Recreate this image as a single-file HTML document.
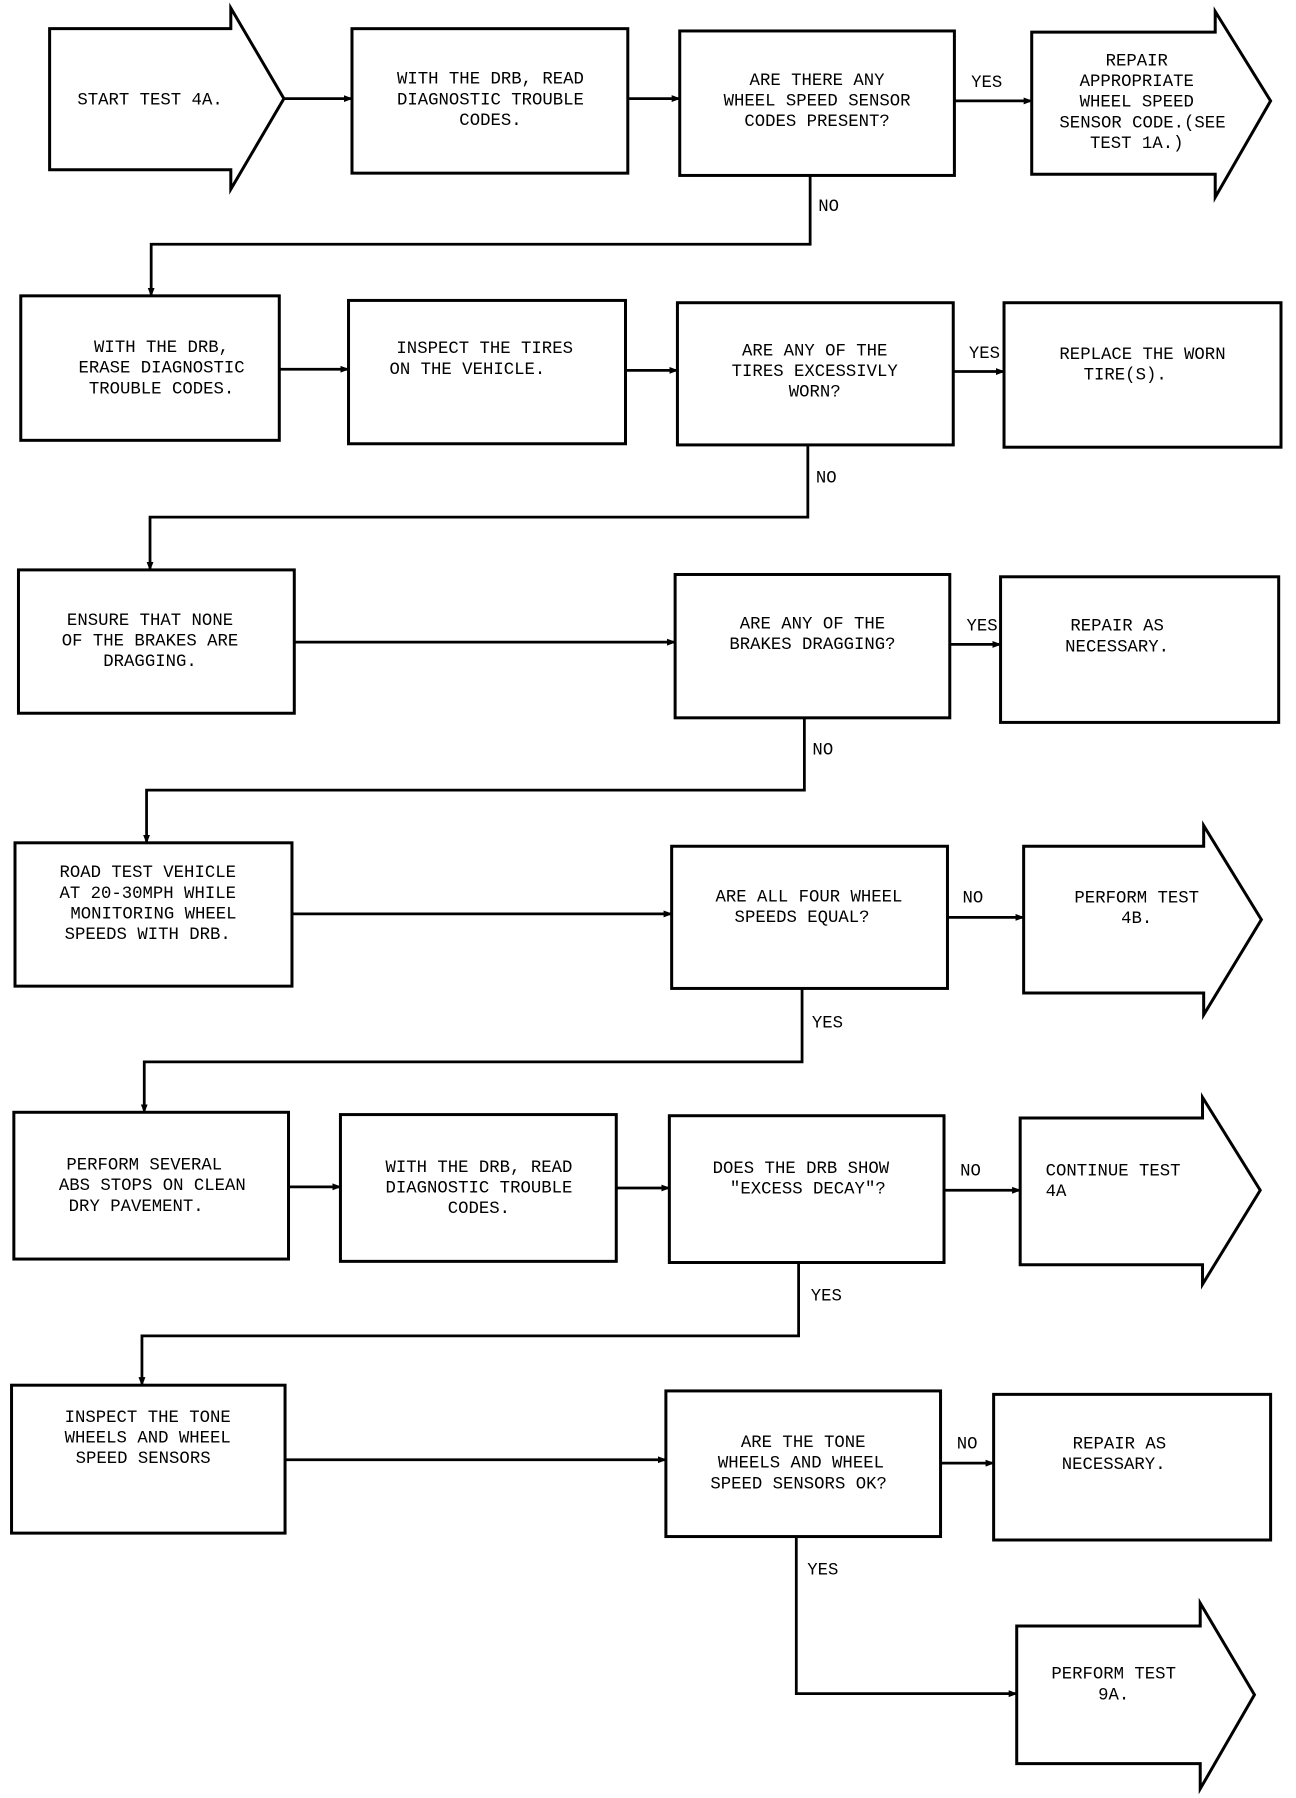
<!DOCTYPE html>
<html><head><meta charset="utf-8"><style>
html,body{margin:0;padding:0;background:#fff;}
svg{display:block}
text{font-family:"Liberation Mono",monospace;font-size:15px;fill:#000;text-anchor:middle;}
.l{text-anchor:start}
</style></head><body>
<svg width="1296" height="1798" viewBox="0 0 1123 1568" preserveAspectRatio="none" xmlns="http://www.w3.org/2000/svg">
<defs><marker id="a" markerWidth="8" markerHeight="8" refX="7" refY="4" orient="auto" markerUnits="userSpaceOnUse"><path d="M0,1 L8,4 L0,7z" fill="#000"/></marker></defs>
<g fill="none" stroke="#000" stroke-width="2.6">
<polygon points="43,25 200,25 200,7 246,86 200,165 200,148 43,148"/>
<rect x="305" y="25" width="239" height="126"/>
<rect x="589" y="27" width="238" height="126"/>
<polygon points="894,28 1053,28 1053,10 1101,88 1053,172 1053,152 894,152"/>
<rect x="18" y="258" width="224" height="126"/>
<rect x="302" y="262" width="240" height="125"/>
<rect x="587" y="264" width="239" height="124"/>
<rect x="870" y="264" width="240" height="126"/>
<rect x="16" y="497" width="239" height="125"/>
<rect x="585" y="501" width="238" height="125"/>
<rect x="867" y="503" width="241" height="127"/>
<rect x="13" y="735" width="240" height="125"/>
<rect x="582" y="738" width="239" height="124"/>
<polygon points="887,738 1043,738 1043,720 1093,802 1043,885 1043,866 887,866"/>
<rect x="12" y="970" width="238" height="128"/>
<rect x="295" y="972" width="239" height="128"/>
<rect x="580" y="973" width="238" height="128"/>
<polygon points="884,975 1042,975 1042,957 1092,1038 1042,1120 1042,1103 884,1103"/>
<rect x="10" y="1208" width="237" height="129"/>
<rect x="577" y="1213" width="238" height="127"/>
<rect x="861" y="1216" width="240" height="127"/>
<polygon points="881,1418 1040,1418 1040,1398 1087,1478 1040,1560 1040,1538 881,1538"/>
</g>
<g fill="none" stroke="#000" stroke-width="2.4" marker-end="url(#a)">
<path d="M246,86H305"/><path d="M544,86H589"/><path d="M827,88H894"/>
<path d="M702,153V213H131V258"/>
<path d="M242,322H302"/><path d="M542,323H587"/><path d="M826,324H870"/>
<path d="M700,388V451H130V497"/>
<path d="M255,560H585"/><path d="M823,562H867"/>
<path d="M697,626V689H127V735"/>
<path d="M253,797H582"/><path d="M821,800H887"/>
<path d="M695,862V926H125V970"/>
<path d="M250,1035H295"/><path d="M534,1036H580"/><path d="M818,1038H884"/>
<path d="M692,1101V1165H123V1208"/>
<path d="M247,1273H577"/><path d="M815,1276H861"/>
<path d="M690,1340V1477H881"/>
</g>
<text x="130" y="91">START TEST 4A.</text>
<text x="425" y="73">WITH THE DRB, READ</text><text x="425" y="91">DIAGNOSTIC TROUBLE</text><text x="425" y="109">CODES.</text>
<text x="708" y="74">ARE THERE ANY</text><text x="708" y="92">WHEEL SPEED SENSOR</text><text x="708" y="110">CODES PRESENT?</text>
<text x="985" y="57">REPAIR</text><text x="985" y="75">APPROPRIATE</text><text x="985" y="93">WHEEL SPEED</text><text x="990" y="111">SENSOR CODE.(SEE</text><text x="985" y="129">TEST 1A.)</text>
<text x="855" y="76">YES</text><text x="718" y="184">NO</text>
<text x="140" y="307">WITH THE DRB,</text><text x="140" y="325">ERASE DIAGNOSTIC</text><text x="140" y="343">TROUBLE CODES.</text>
<text x="420" y="308">INSPECT THE TIRES</text><text x="405" y="326">ON THE VEHICLE.</text>
<text x="706" y="310">ARE ANY OF THE</text><text x="706" y="328">TIRES EXCESSIVLY</text><text x="706" y="346">WORN?</text>
<text x="990" y="313">REPLACE THE WORN</text><text x="975" y="331">TIRE(S).</text>
<text x="853" y="312">YES</text><text x="716" y="421">NO</text>
<text x="130" y="545">ENSURE THAT NONE</text><text x="130" y="563">OF THE BRAKES ARE</text><text x="130" y="581">DRAGGING.</text>
<text x="704" y="548">ARE ANY OF THE</text><text x="704" y="566">BRAKES DRAGGING?</text>
<text x="968" y="550">REPAIR AS</text><text x="968" y="568">NECESSARY.</text>
<text x="851" y="550">YES</text><text x="713" y="658">NO</text>
<text x="128" y="765">ROAD TEST VEHICLE</text><text x="128" y="783">AT 20-30MPH WHILE</text><text x="133" y="801">MONITORING WHEEL</text><text x="128" y="819">SPEEDS WITH DRB.</text>
<text x="701" y="786">ARE ALL FOUR WHEEL</text><text x="695" y="804">SPEEDS EQUAL?</text>
<text x="985" y="787">PERFORM TEST</text><text x="985" y="805">4B.</text>
<text x="843" y="787">NO</text><text x="717" y="896">YES</text>
<text x="125" y="1020">PERFORM SEVERAL</text><text x="132" y="1038">ABS STOPS ON CLEAN</text><text x="118" y="1056">DRY PAVEMENT.</text>
<text x="415" y="1022">WITH THE DRB, READ</text><text x="415" y="1040">DIAGNOSTIC TROUBLE</text><text x="415" y="1058">CODES.</text>
<text x="694" y="1023">DOES THE DRB SHOW</text><text x="700" y="1041">"EXCESS DECAY"?</text>
<text class="l" x="906" y="1025">CONTINUE TEST</text><text class="l" x="906" y="1043">4A</text>
<text x="841" y="1025">NO</text><text x="716" y="1134">YES</text>
<text x="128" y="1240">INSPECT THE TONE</text><text x="128" y="1258">WHEELS AND WHEEL</text><text x="124" y="1276">SPEED SENSORS</text>
<text x="696" y="1262">ARE THE TONE</text><text x="694" y="1280">WHEELS AND WHEEL</text><text x="692" y="1298">SPEED SENSORS OK?</text>
<text x="970" y="1263">REPAIR AS</text><text x="965" y="1281">NECESSARY.</text>
<text x="838" y="1263">NO</text><text x="713" y="1373">YES</text>
<text x="965" y="1464">PERFORM TEST</text><text x="965" y="1482">9A.</text>
</svg>
</body></html>
